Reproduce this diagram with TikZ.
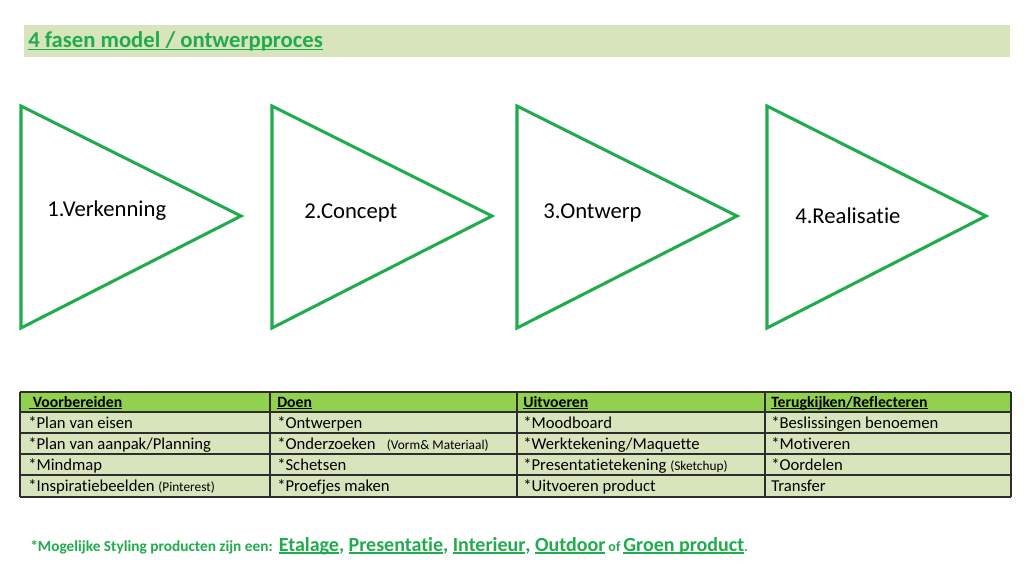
\documentclass[tikz,border=0pt]{standalone}
\usepackage{fontspec}
\setmainfont[Ligatures={NoCommon,NoContextual}]{Carlito}
\definecolor{tgreen}{RGB}{32,172,76}
\definecolor{bandgreen}{RGB}{216,228,188}
\definecolor{headgreen}{RGB}{146,208,80}
\definecolor{bodygreen}{RGB}{216,228,188}
\definecolor{gridgray}{RGB}{45,45,45}
\newcommand{\sm}[1]{{\fontsize{10}{12}\selectfont #1}}
\newcommand{\myul}[1]{\setbox0\hbox{#1}\rlap{\rule[-0.14em]{\wd0}{0.07em}}\box0}
\tikzset{
  tri/.style={draw=tgreen, line width=2.3pt, line join=miter},
  lbl/.style={anchor=base west, inner sep=0pt, font=\fontsize{17}{20}\selectfont},
  cell/.style={anchor=base west, inner sep=0pt, font=\fontsize{12.5}{15}\selectfont},
  head/.style={cell, font=\fontsize{11.8}{14}\selectfont\bfseries},
  grid/.style={draw=gridgray, line width=1pt},
}
\begin{document}
\begin{tikzpicture}[x=0.75pt,y=-0.75pt]
\useasboundingbox (0,0) rectangle (1024,579);
% title band
\fill[bandgreen] (24,25) rectangle (1010,57);
\node[anchor=base west, inner sep=0pt, text=tgreen, font=\fontsize{17}{20}\selectfont\bfseries] (title) at (28,47) {\myul{4 fasen model / ontwerpproces}};
% triangles
\draw[tri] (21,106) -- (241,216) -- (21,328) -- cycle;
\draw[tri] (272,106) -- (492,216) -- (272,328) -- cycle;
\draw[tri] (517,106) -- (737,216) -- (517,328) -- cycle;
\draw[tri] (767,106) -- (986,216) -- (767,328) -- cycle;
\node[lbl] (f1) at (47,216) {1.Verkenning};
\node[lbl] (f2) at (304,218) {2.Concept};
\node[lbl] (f3) at (543,218) {3.Ontwerp};
\node[lbl] (f4) at (795,223) {4.Realisatie};
% table
\fill[headgreen] (20,392) rectangle (1011,412);
\fill[bodygreen] (20,412) rectangle (1011,497);
\foreach \y in {392,412,433,454,475,497} \draw[grid] (20,\y) -- (1011,\y);
\foreach \x in {20,270,517,765,1011} \draw[grid] (\x,392) -- (\x,497);
% header
\node[head] (h1) at (29,407) {\myul{\ Voorbereiden}};
\node[head] (h2) at (277,407) {\myul{Doen}};
\node[head] (h3) at (523,407) {\myul{Uitvoeren}};
\node[head] (h4) at (771,407) {\myul{Terugkijken/Reflecteren}};
% column 1
\node[cell] (a1) at (28,428) {*Plan van eisen};
\node[cell] (a2) at (28,449) {*Plan van aanpak/Planning};
\node[cell] (a3) at (28,470) {*Mindmap};
\node[cell] (a4) at (28,491) {*Inspiratiebeelden \sm{(Pinterest)}};
% column 2
\node[cell] (b1) at (277,428) {*Ontwerpen};
\node[cell] (b2) at (277,449) {*Onderzoeken\ \ \ \sm{(Vorm\& Materiaal)}};
\node[cell] (b3) at (277,470) {*Schetsen};
\node[cell] (b4) at (277,491) {*Proefjes maken};
% column 3
\node[cell] (c1) at (523,428) {*Moodboard};
\node[cell] (c2) at (523,449) {*Werktekening/Maquette};
\node[cell] (c3) at (523,470) {*Presentatietekening \sm{(Sketchup)}};
\node[cell] (c4) at (523,491) {*Uitvoeren product};
% column 4
\node[cell] (d1) at (771,428) {*Beslissingen benoemen};
\node[cell] (d2) at (771,449) {*Motiveren};
\node[cell] (d3) at (771,470) {*Oordelen};
\node[cell] (d4) at (771,491) {Transfer};
% footer
\node[anchor=base west, inner sep=0pt, text=tgreen, font=\bfseries] (foot) at (30,551)
  {{\fontsize{11.5}{13}\selectfont *Mogelijke Styling producten zijn een:}\ \ {\fontsize{15}{17}\selectfont\myul{Etalage}, \myul{Presentatie}, \myul{Interieur}, \myul{Outdoor}} {\fontsize{10.5}{12}\selectfont of} {\fontsize{15}{17}\selectfont\myul{Groen product}}{\fontsize{10.5}{12}\selectfont .}};
\end{tikzpicture}
\end{document}
